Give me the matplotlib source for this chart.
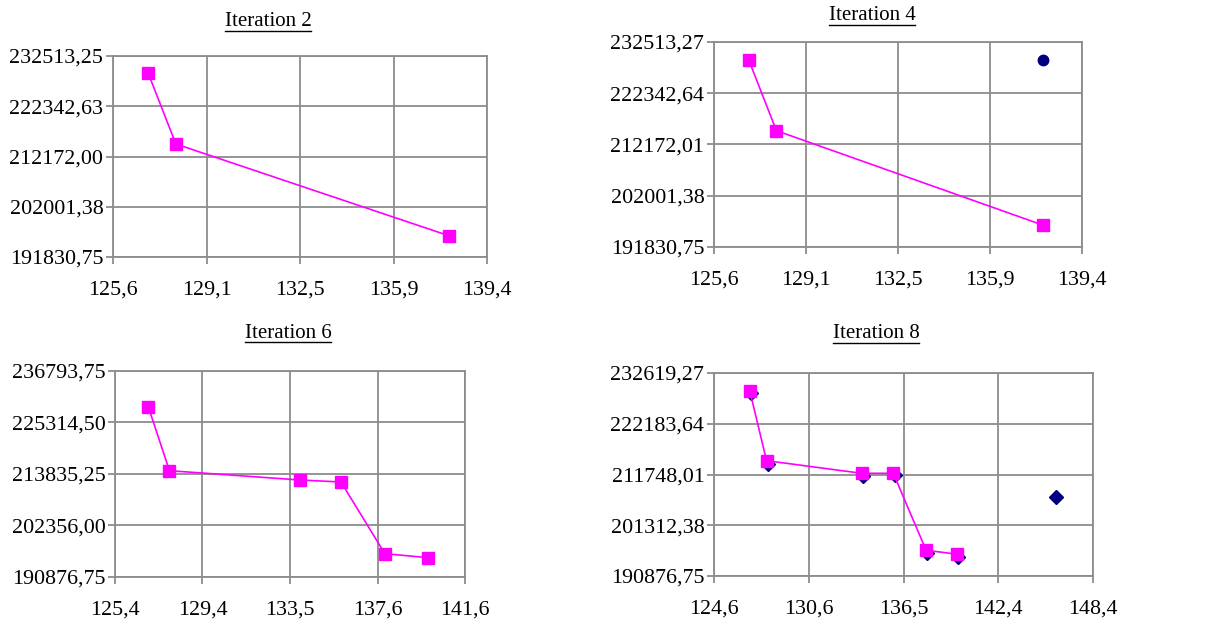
import numpy as np
import matplotlib
matplotlib.use('Agg')
import matplotlib.pyplot as plt
from matplotlib.lines import Line2D

plt.rcParams['font.family'] = ['Liberation Serif', 'DejaVu Serif']
fs = 15
fs_tick = 15.8

# ---- data ----
titles = ['Iteration 2', 'Iteration 4', 'Iteration 6', 'Iteration 8']

# pareto front (magenta squares + line)
front_x = [
    [126.90, 127.92, 137.99],
    [126.91, 127.94, 137.95],
    [126.94, 127.92, 133.96, 135.86, 137.89, 139.91],
    [126.85, 127.90, 133.87, 135.86, 137.92, 139.88],
]
front_y = [
    [229011, 214702, 196142],
    [228852, 214918, 196145],
    [228843, 214572, 212499, 212053, 196070, 195178],
    [228907, 214594, 211995, 211995, 196177, 195351],
]

# population points (navy markers)
pop_x = [
    [],
    [137.95],
    [],
    [126.95, 128.00, 133.93, 135.95, 137.96, 139.95, 146.05],
]
pop_y = [
    [],
    [228852],
    [],
    [228495, 213918, 211500, 211659, 195510, 194797, 207170],
]
pop_marker = [None, 'o', None, 'D']

xtick_labels = [
    ['125,6', '129,1', '132,5', '135,9', '139,4'],
    ['125,6', '129,1', '132,5', '135,9', '139,4'],
    ['125,4', '129,4', '133,5', '137,6', '141,6'],
    ['124,6', '130,6', '136,5', '142,4', '148,4'],
]
xlims = [(125.6, 139.4), (125.6, 139.4), (125.4, 141.6), (124.6, 148.4)]

ytick_labels = [
    ['191830,75', '202001,38', '212172,00', '222342,63', '232513,25'],
    ['191830,75', '202001,38', '212172,01', '222342,64', '232513,27'],
    ['190876,75', '202356,00', '213835,25', '225314,50', '236793,75'],
    ['190876,75', '201312,38', '211748,01', '222183,64', '232619,27'],
]
ylims = [(191830.75, 232513.25), (191830.75, 232513.27),
         (190876.75, 236793.75), (190876.75, 232619.27)]

# ---- layout (pixels in a 1219x622 figure) ----
W, H = 1219, 622
ax_boxes = [  # left, top, right, bottom
    (113, 56, 487, 257),
    (714, 42, 1082, 247),
    (115, 371, 465, 577),
    (714, 373, 1093, 576),
]
title_pos = [(268, 22), (872, 16), (288, 333), (876, 334)]

grid_col = '#8c8c8c'
magenta = '#ff00ff'
navy = '#000080'

fig = plt.figure(figsize=(W / 100, H / 100), dpi=100)

axes = []
for i in range(4):
    l, t, r, b = ax_boxes[i]
    ax = fig.add_axes([l / W, 1 - b / H, (r - l) / W, (b - t) / H])
    axes.append(ax)

    x0, x1 = xlims[i]
    y0, y1 = ylims[i]
    ax.set_xlim(x0, x1)
    ax.set_ylim(y0, y1)
    ax.set_xticks(np.linspace(x0, x1, 5))
    ax.set_xticklabels(xtick_labels[i], fontsize=fs_tick)
    ax.set_yticks(np.linspace(y0, y1, 5))
    ax.set_yticklabels(ytick_labels[i], fontsize=fs_tick)

    ax.grid(True, color=grid_col, linewidth=1.3, zorder=1)
    for s in ax.spines.values():
        s.set_color(grid_col)
        s.set_linewidth(1.3)
    ax.tick_params(axis='both', direction='out', length=5, width=1.3,
                   color=grid_col, labelcolor='black')
    ax.tick_params(axis='x', pad=12)
    ax.tick_params(axis='y', pad=2)

    if pop_x[i]:
        ax.plot(pop_x[i], pop_y[i], linestyle='none', marker=pop_marker[i],
                color=navy, markersize=7.5, zorder=3, clip_on=False)
    ax.plot(front_x[i], front_y[i], color=magenta, linewidth=1.2,
            marker='s', markersize=8, markeredgecolor=magenta, zorder=4)

# underlined titles
title_texts = []
for i in range(4):
    tx, ty = title_pos[i]
    t = fig.text(tx / W, 1 - ty / H, titles[i], fontsize=fs, ha='center', va='center')
    title_texts.append(t)

fig.canvas.draw()
renderer = fig.canvas.get_renderer()
for t in title_texts:
    bb = t.get_window_extent(renderer)
    yline = (bb.y0 + 1) / H
    fig.add_artist(Line2D([bb.x0 / W, bb.x1 / W], [yline, yline],
                          transform=fig.transFigure, color='black', linewidth=1.0))

fig.savefig('out.png', dpi=100)
